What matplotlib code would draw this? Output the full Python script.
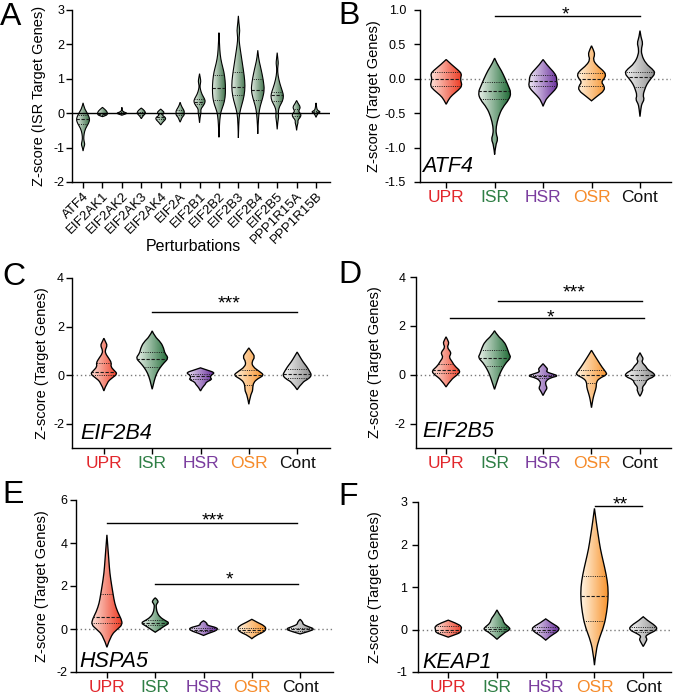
import numpy as np
import matplotlib
matplotlib.use("Agg")
import matplotlib.pyplot as plt
from matplotlib.path import Path
from matplotlib.patches import PathPatch
from matplotlib.colors import LinearSegmentedColormap

plt.rcParams['font.family'] = ['Liberation Sans', 'DejaVu Sans']
plt.rcParams['axes.unicode_minus'] = False

W, H = 676, 700

# ---------------- data ----------------
genes = ['ATF4', 'EIF2AK1', 'EIF2AK2', 'EIF2AK3', 'EIF2AK4', 'EIF2A', 'EIF2B1',
         'EIF2B2', 'EIF2B3', 'EIF2B4', 'EIF2B5', 'PPP1R15A', 'PPP1R15B']

# violin outlines: y levels (top -> bottom) and half widths (category units)
A_Y = [
    [0.30, 0.15, 0.02, -0.12, -0.2, -0.3, -0.45, -0.6, -0.75, -0.85, -0.92, -1.0, -1.1],
    [0.17, 0.1, 0.03, -0.04, -0.08, -0.1],
    [0.17, 0.12, 0.07, 0.03, 0.0, -0.03, -0.06],
    [0.15, 0.1, 0.04, 0.0, -0.04, -0.1, -0.16],
    [0.12, 0.06, 0.02, -0.04, -0.07, -0.12, -0.18, -0.26, -0.34],
    [0.32, 0.22, 0.12, 0.05, 0.0, -0.05, -0.12, -0.2, -0.26],
    [1.15, 1.02, 0.92, 0.8, 0.7, 0.55, 0.42, 0.33, 0.22, 0.12, 0.02, -0.1, -0.28],
    [2.34, 2.0, 1.7, 1.45, 1.2, 0.95, 0.7, 0.45, 0.25, 0.05, -0.2, -0.45, -0.7],
    [2.83, 2.6, 2.4, 2.2, 2.0, 1.7, 1.4, 1.1, 0.8, 0.5, 0.25, 0.0, -0.3, -0.72],
    [1.83, 1.6, 1.4, 1.15, 0.9, 0.68, 0.45, 0.2, 0.0, -0.3, -0.6],
    [1.76, 1.55, 1.45, 1.3, 1.1, 0.85, 0.62, 0.5, 0.35, 0.2, 0.05, -0.1, -0.25, -0.47],
    [0.37, 0.28, 0.18, 0.1, 0.05, -0.02, -0.1, -0.2, -0.28, -0.35, -0.5],
    [0.3, 0.22, 0.14, 0.08, 0.04, 0.0, -0.05, -0.12],
]
A_W = [
    [0, 0.06, 0.2, 0.32, 0.34, 0.28, 0.12, 0.05, 0.03, 0.07, 0.09, 0.03, 0],
    [0, 0.15, 0.25, 0.26, 0.12, 0],
    [0, 0.02, 0.02, 0.12, 0.28, 0.15, 0],
    [0, 0.12, 0.2, 0.22, 0.16, 0.06, 0],
    [0, 0.12, 0.18, 0.1, 0.1, 0.24, 0.26, 0.1, 0],
    [0, 0.05, 0.16, 0.22, 0.2, 0.22, 0.1, 0.05, 0],
    [0, 0.04, 0.07, 0.02, 0.04, 0.12, 0.26, 0.3, 0.2, 0.06, 0.08, 0.03, 0],
    [0, 0.03, 0.06, 0.14, 0.26, 0.32, 0.34, 0.32, 0.24, 0.1, 0.04, 0.02, 0],
    [0, 0.03, 0.08, 0.03, 0.06, 0.14, 0.22, 0.3, 0.35, 0.3, 0.18, 0.06, 0.02, 0],
    [0, 0.04, 0.12, 0.22, 0.3, 0.34, 0.26, 0.12, 0.06, 0.02, 0],
    [0, 0.04, 0.06, 0.02, 0.04, 0.14, 0.28, 0.33, 0.28, 0.12, 0.05, 0.08, 0.03, 0],
    [0, 0.08, 0.2, 0.14, 0.1, 0.22, 0.22, 0.06, 0.08, 0.03, 0],
    [0, 0.02, 0.04, 0.08, 0.24, 0.12, 0.05, 0],
]
A_MED = [-0.17, -0.02, 0.01, 0.0, -0.12, 0.02, 0.33, 0.72, 0.75, 0.68, 0.52, 0.02, 0.03]
A_Q1 = [-0.3, -0.05, -0.01, -0.04, -0.18, -0.05, 0.28, 0.37, 0.53, 0.37, 0.35, -0.08, 0.0]
A_Q3 = [-0.05, 0.02, 0.03, 0.04, -0.03, 0.1, 0.4, 1.1, 1.2, 1.0, 0.62, 0.12, 0.06]

groups = ['UPR', 'ISR', 'HSR', 'OSR', 'Cont']

B_Y = [
    [0.28, 0.2, 0.12, 0.07, 0.02, -0.03, -0.1, -0.16, -0.24, -0.3, -0.37],
    [0.3, 0.22, 0.12, 0.0, -0.1, -0.2, -0.3, -0.42, -0.55, -0.7, -0.8, -0.88, -0.96, -1.1],
    [0.28, 0.2, 0.1, 0.03, -0.03, -0.1, -0.16, -0.25, -0.32, -0.4],
    [0.48, 0.42, 0.35, 0.28, 0.2, 0.12, 0.06, 0.0, -0.05, -0.1, -0.17, -0.25, -0.32],
    [0.7, 0.6, 0.52, 0.45, 0.35, 0.22, 0.14, 0.08, 0.0, -0.08, -0.15, -0.24, -0.3, -0.36, -0.42, -0.55],
]
B_W = [
    [0, 0.12, 0.26, 0.32, 0.3, 0.3, 0.33, 0.26, 0.12, 0.05, 0],
    [0, 0.05, 0.14, 0.22, 0.28, 0.34, 0.3, 0.16, 0.08, 0.03, 0.03, 0.07, 0.02, 0],
    [0, 0.08, 0.22, 0.28, 0.28, 0.3, 0.25, 0.12, 0.04, 0],
    [0, 0.04, 0.07, 0.03, 0.1, 0.24, 0.3, 0.26, 0.2, 0.26, 0.27, 0.12, 0],
    [0, 0.02, 0.06, 0.03, 0.03, 0.12, 0.26, 0.32, 0.22, 0.14, 0.1, 0.06, 0.09, 0.04, 0.02, 0],
]
B_MED = [0.0, -0.18, -0.03, -0.01, 0.03]
B_Q1 = [-0.1, -0.3, -0.1, -0.1, -0.12]
B_Q3 = [0.1, -0.05, 0.06, 0.08, 0.1]

C_Y = [
    [1.52, 1.35, 1.22, 1.05, 0.9, 0.7, 0.5, 0.35, 0.18, 0.05, -0.1, -0.3, -0.65],
    [1.82, 1.6, 1.35, 1.1, 0.9, 0.7, 0.5, 0.3, 0.1, -0.15, -0.58],
    [0.3, 0.2, 0.1, 0.0, -0.1, -0.18, -0.28, -0.38, -0.5, -0.65],
    [1.12, 0.95, 0.75, 0.55, 0.35, 0.15, 0.0, -0.15, -0.3, -0.5, -0.65, -0.85, -1.2],
    [0.95, 0.75, 0.55, 0.35, 0.15, 0.0, -0.15, -0.3, -0.6],
]
C_W = [
    [0, 0.04, 0.07, 0.03, 0.03, 0.1, 0.16, 0.14, 0.22, 0.28, 0.18, 0.06, 0],
    [0, 0.05, 0.18, 0.24, 0.26, 0.34, 0.24, 0.16, 0.1, 0.05, 0],
    [0, 0.15, 0.3, 0.22, 0.2, 0.24, 0.12, 0.1, 0.04, 0],
    [0, 0.06, 0.13, 0.06, 0.08, 0.22, 0.32, 0.18, 0.1, 0.08, 0.08, 0.03, 0],
    [0, 0.06, 0.12, 0.2, 0.26, 0.3, 0.24, 0.1, 0],
]
C_MED = [0.15, 0.67, -0.05, 0.0, 0.05]
C_Q1 = [0.0, 0.33, -0.15, -0.4, -0.1]
C_Q3 = [0.5, 0.95, 0.05, 0.2, 0.27]

D_Y = [
    [1.55, 1.4, 1.28, 1.12, 0.95, 0.85, 0.72, 0.55, 0.35, 0.15, 0.0, -0.2, -0.5],
    [1.8, 1.6, 1.35, 1.1, 0.85, 0.7, 0.5, 0.25, 0.0, -0.3, -0.6],
    [0.45, 0.32, 0.22, 0.12, 0.03, -0.05, -0.12, -0.25, -0.4, -0.55, -0.65, -0.85],
    [1.0, 0.8, 0.55, 0.3, 0.1, 0.0, -0.15, -0.3, -0.5, -0.7, -0.9, -1.1, -1.35],
    [0.9, 0.75, 0.65, 0.52, 0.35, 0.2, 0.05, -0.08, -0.2, -0.35, -0.52, -0.65, -0.88],
]
D_W = [
    [0, 0.04, 0.06, 0.02, 0.09, 0.1, 0.06, 0.12, 0.18, 0.3, 0.24, 0.1, 0],
    [0, 0.06, 0.2, 0.26, 0.3, 0.34, 0.24, 0.16, 0.1, 0.05, 0],
    [0, 0.06, 0.1, 0.06, 0.2, 0.32, 0.16, 0.06, 0.05, 0.09, 0.05, 0],
    [0, 0.06, 0.14, 0.22, 0.3, 0.32, 0.16, 0.1, 0.1, 0.07, 0.04, 0.02, 0],
    [0, 0.04, 0.07, 0.03, 0.12, 0.16, 0.3, 0.3, 0.14, 0.12, 0.04, 0.07, 0],
]
D_MED = [0.2, 0.67, -0.05, 0.0, 0.0]
D_Q1 = [0.05, 0.35, -0.12, -0.35, -0.2]
D_Q3 = [0.45, 1.0, 0.0, 0.2, 0.2]

E_Y = [
    [4.38, 3.8, 3.2, 2.6, 2.0, 1.6, 1.2, 0.8, 0.45, 0.2, 0.0, -0.3, -0.85],
    [1.45, 1.3, 1.15, 1.0, 0.75, 0.55, 0.4, 0.28, 0.15, 0.0, -0.15],
    [0.38, 0.28, 0.18, 0.08, 0.0, -0.1, -0.2, -0.3],
    [0.45, 0.3, 0.15, 0.0, -0.15, -0.3, -0.45],
    [0.45, 0.32, 0.22, 0.1, 0.0, -0.1, -0.23],
]
E_W = [
    [0, 0.02, 0.04, 0.06, 0.1, 0.13, 0.16, 0.22, 0.3, 0.32, 0.22, 0.08, 0],
    [0, 0.08, 0.02, 0.02, 0.04, 0.1, 0.2, 0.3, 0.2, 0.1, 0],
    [0, 0.08, 0.06, 0.25, 0.3, 0.24, 0.1, 0],
    [0, 0.12, 0.26, 0.3, 0.24, 0.08, 0],
    [0, 0.06, 0.05, 0.18, 0.3, 0.2, 0],
]
E_MED = [0.55, 0.3, -0.05, -0.05, -0.02]
E_Q1 = [0.27, 0.2, -0.1, -0.15, -0.07]
E_Q3 = [1.65, 0.4, 0.05, 0.05, 0.03]

F_Y = [
    [0.22, 0.15, 0.07, 0.0, -0.07, -0.13, -0.18],
    [0.46, 0.35, 0.25, 0.15, 0.06, 0.0, -0.08, -0.23],
    [0.25, 0.15, 0.06, 0.0, -0.07, -0.15, -0.25],
    [2.85, 2.5, 2.2, 1.9, 1.6, 1.3, 1.0, 0.7, 0.4, 0.1, -0.2, -0.5, -0.84],
    [0.3, 0.2, 0.1, 0.0, -0.1, -0.16, -0.22, -0.28, -0.4],
]
F_W = [
    [0, 0.16, 0.28, 0.26, 0.26, 0.12, 0],
    [0, 0.05, 0.12, 0.14, 0.24, 0.28, 0.14, 0],
    [0, 0.12, 0.26, 0.28, 0.22, 0.1, 0],
    [0, 0.04, 0.08, 0.12, 0.18, 0.24, 0.28, 0.28, 0.25, 0.2, 0.1, 0.03, 0],
    [0, 0.1, 0.24, 0.3, 0.12, 0.04, 0.08, 0.06, 0],
]
F_MED = [0.0, 0.02, 0.0, 0.8, 0.0]
F_Q1 = [-0.07, -0.03, -0.05, 0.2, -0.05]
F_Q3 = [0.08, 0.07, 0.05, 1.25, 0.05]

# significance bars: (x start, x end, bar y, stars, star x, star centre y)
B_SIG = [(1, 4, 0.91, '*', 2.47, 1.02)]
C_SIG = [(1, 4, 2.6, '***', 2.6, 3.2)]
D_SIG = [(1.07, 4.04, 3.02, '***', 2.64, 3.61), (0.08, 4.08, 2.33, '*', 2.16, 2.61)]
E_SIG = [(0, 3.94, 4.95, '***', 2.2, 5.33), (1, 3.96, 2.08, '*', 2.53, 2.61)]
F_SIG = [(3.02, 3.98, 2.9, '**', 3.53, 3.1)]

# ---------------- styles ----------------
label_colors = ['#e2262b', '#2f7f45', '#7a3c9e', '#f68b2a', '#111111']
fill_colors = [('#fde4dc', '#ee3a22'), ('#eef4ee', '#1e6a35'), ('#efe8f5', '#65299a'),
               ('#fff4e3', '#f8922a'), ('#f6f6f6', '#8c8c8c')]
green_a = ('#e6eee6', '#3b6f47')

fig = plt.figure(figsize=(W / 100, H / 100), dpi=100)


def make_ax(l, t, r, b):
    return fig.add_axes([l / W, 1 - b / H, (r - l) / W, (b - t) / H])


def outline(x, ys, ws):
    right = [(x + w, y) for y, w in zip(ys, ws)]
    left = [(x - w, y) for y, w in zip(ys[::-1], ws[::-1])]
    verts = [right[0]]
    codes = [Path.MOVETO]
    for side in (right, left):
        n = len(side)
        for i in range(1, n - 1):
            p, q = side[i], side[i + 1]
            end = q if i == n - 2 else ((p[0] + q[0]) / 2, (p[1] + q[1]) / 2)
            verts += [p, end]
            codes += [Path.CURVE3, Path.CURVE3]
    verts.append(right[0])
    codes.append(Path.CLOSEPOLY)
    return Path(verts, codes)


def violin(ax, x, ys, ws, med, q1, q3, cols, lw=0.95):
    patch = PathPatch(outline(x, ys, ws), facecolor='none', edgecolor='black',
                      lw=lw, zorder=3)
    ax.add_patch(patch)
    wmax = max(ws)
    cmap = LinearSegmentedColormap.from_list('v', cols)
    im = ax.imshow(np.linspace(0, 1, 100).reshape(1, -1), cmap=cmap, aspect='auto',
                   extent=(x - wmax, x + wmax, min(ys), max(ys)), origin='lower',
                   zorder=2, interpolation='bilinear')
    im.set_clip_path(patch)
    for yv, dash, lq in ((med, (3, 1.5), 0.8), (q1, (1, 1.3), 0.7), (q3, (1, 1.3), 0.7)):
        ln, = ax.plot([x - wmax, x + wmax], [yv, yv], color='#1a1a1a', lw=lq,
                      dashes=dash, zorder=3.5, solid_capstyle='butt')
        ln.set_clip_path(patch)


def style_axes(ax, ypad):
    for s in ('top', 'right'):
        ax.spines[s].set_visible(False)
    for s in ('left', 'bottom'):
        ax.spines[s].set_linewidth(1.0)
    ax.tick_params(axis='both', length=4.5, width=1.0, direction='out')
    ax.tick_params(axis='y', labelsize=9, pad=ypad)


# ---------------- panel A ----------------
axA = make_ax(72, 10, 330, 182)
for i in range(len(genes)):
    violin(axA, i, A_Y[i], A_W[i], A_MED[i], A_Q1[i], A_Q3[i], green_a, lw=0.8)
axA.axhline(0, color='black', lw=1.0, zorder=4)
axA.set_xlim(-0.57, 12.72)
axA.set_ylim(-2, 3)
axA.set_yticks([-2, -1, 0, 1, 2, 3])
axA.set_xticks(range(len(genes)))
axA.set_xticklabels(genes, rotation=45, ha='right', rotation_mode='anchor', fontsize=9.5)
style_axes(axA, 1.2)
axA.tick_params(axis='x', pad=1.5)
axA.set_ylabel('Z-score (ISR Target Genes)', fontsize=10.5)
axA.yaxis.set_label_coords(-0.10, 0.5)
axA.set_xlabel('Perturbations', fontsize=11.5)
axA.xaxis.set_label_coords(0.47, -0.33)

# ---------------- panels B-F ----------------
panels = [
    dict(box=(420, 10, 671, 182), xlim=(-0.54, 4.64), ylim=(-1.5, 1.0),
         yticks=[-1.5, -1.0, -0.5, 0.0, 0.5, 1.0], fmt='{:.1f}', ypad=5.5, ylab=-0.155,
         Y=B_Y, Wd=B_W, med=B_MED, q1=B_Q1, q3=B_Q3, sig=B_SIG, gene='ATF4', goff=(2, 10)),
    dict(box=(72, 278, 330, 448), xlim=(-0.66, 4.68), ylim=(-3, 4),
         yticks=[-2, 0, 2, 4], fmt='{:d}', ypad=1.2, ylab=-0.09,
         Y=C_Y, Wd=C_W, med=C_MED, q1=C_Q1, q3=C_Q3, sig=C_SIG, gene='EIF2B4', goff=(8, 9)),
    dict(box=(416, 277, 671, 448), xlim=(-0.62, 4.64), ylim=(-3, 4),
         yticks=[-2, 0, 2, 4], fmt='{:d}', ypad=3.2, ylab=-0.133,
         Y=D_Y, Wd=D_W, med=D_MED, q1=D_Q1, q3=D_Q3, sig=D_SIG, gene='EIF2B5', goff=(6, 11)),
    dict(box=(76, 500, 333, 672), xlim=(-0.64, 4.68), ylim=(-2, 6),
         yticks=[-2, 0, 2, 4, 6], fmt='{:d}', ypad=1.8, ylab=-0.105,
         Y=E_Y, Wd=E_W, med=E_MED, q1=E_Q1, q3=E_Q3, sig=E_SIG, gene='HSPA5', goff=(3, 5)),
    dict(box=(418, 502, 671, 672), xlim=(-0.62, 4.57), ylim=(-1, 3),
         yticks=[-1, 0, 1, 2, 3], fmt='{:d}', ypad=3.2, ylab=-0.142,
         Y=F_Y, Wd=F_W, med=F_MED, q1=F_Q1, q3=F_Q3, sig=F_SIG, gene='KEAP1', goff=(4, 4)),
]

for p in panels:
    ax = make_ax(*p['box'])
    for i in range(len(groups)):
        violin(ax, i, p['Y'][i], p['Wd'][i], p['med'][i], p['q1'][i], p['q3'][i],
               fill_colors[i])
    ax.axhline(0, color='#7a7a7a', lw=1.0, dashes=(1, 2), zorder=1)
    for x0, x1, yb, stars, xs, ys in p['sig']:
        ax.plot([x0, x1], [yb, yb], color='black', lw=1.0, zorder=5, clip_on=False)
        ax.annotate(stars, xy=(xs, ys), xytext=(0, -0.58 * 14), textcoords='offset points',
                    ha='center', va='baseline', fontsize=14, zorder=6,
                    annotation_clip=False)
    ax.set_xlim(*p['xlim'])
    ax.set_ylim(*p['ylim'])
    ax.set_yticks(p['yticks'])
    ax.set_yticklabels([p['fmt'].format(v) for v in p['yticks']])
    ax.set_xticks(range(len(groups)))
    ax.set_xticklabels(groups, fontsize=12.5)
    for lab, c in zip(ax.get_xticklabels(), label_colors):
        lab.set_color(c)
    style_axes(ax, p['ypad'])
    ax.tick_params(axis='x', pad=1.2)
    ax.set_ylabel('Z-score (Target Genes)', fontsize=10.5)
    ax.yaxis.set_label_coords(p['ylab'], 0.5)
    ax.annotate(p['gene'], xy=(0, 0), xycoords='axes fraction', xytext=p['goff'],
                textcoords='offset pixels', ha='left', va='baseline',
                fontsize=15.5, style='italic')

# panel letters
for letter, px, py in (('A', 0, 25), ('B', 338, 24), ('C', 2, 285),
                       ('D', 338, 283), ('E', 2, 503), ('F', 338, 505)):
    fig.text(px / W, 1 - py / H, letter, ha='left', va='baseline', fontsize=23)

fig.savefig('out.png', dpi=100)
